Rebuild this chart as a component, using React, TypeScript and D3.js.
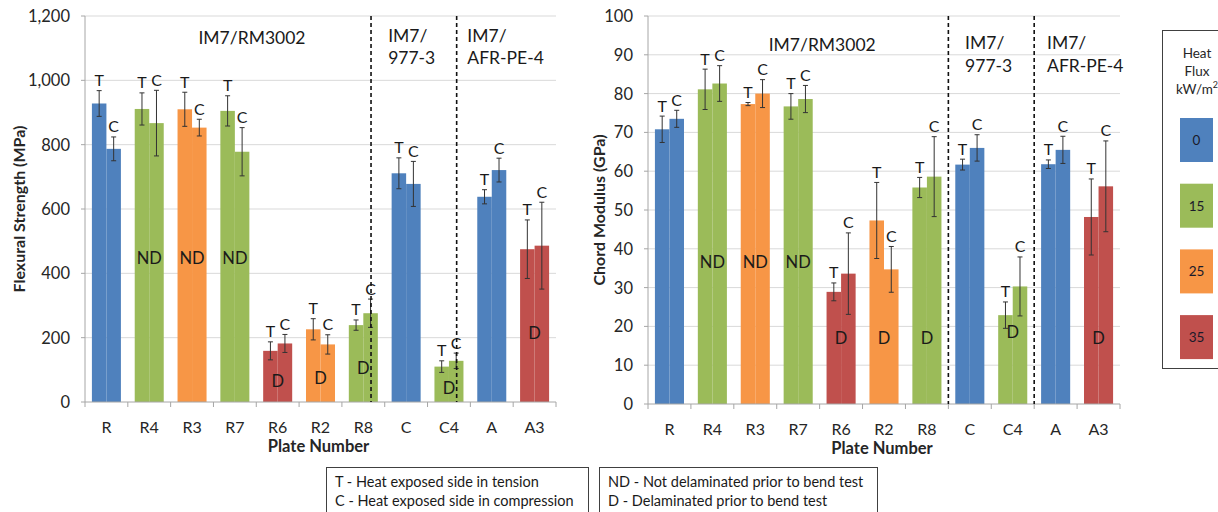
import React from 'react';
import * as d3 from 'd3';

// ---------- DATA ----------
const categories = ['R', 'R4', 'R3', 'R7', 'R6', 'R2', 'R8', 'C', 'C4', 'A', 'A3'];
const heatFlux = [0, 15, 25, 15, 35, 25, 15, 0, 15, 0, 35];
const delamination = ['', 'ND', 'ND', 'ND', 'D', 'D', 'D', '', 'D', '', 'D'];

const strengthT = [928, 911, 910, 905, 159, 226, 239, 711, 110, 638, 475];
const strengthTErr = [40, 50, 53, 47, 28, 33, 16, 48, 18, 22, 91];
const strengthC = [787, 867, 853, 778, 182, 179, 276, 678, 128, 721, 486];
const strengthCErr = [37, 102, 26, 75, 28, 30, 44, 70, 24, 37, 135];

const modulusT = [70.8, 81.1, 77.3, 76.7, 28.9, 47.3, 55.8, 61.7, 22.9, 61.8, 48.2];
const modulusTErr = [3.4, 5.2, 0.4, 3.3, 2.3, 9.8, 2.6, 1.4, 3.4, 1.1, 9.8];
const modulusC = [73.5, 82.6, 80.0, 78.6, 33.6, 34.7, 58.6, 66.0, 30.3, 65.5, 56.1];
const modulusCErr = [2.2, 4.6, 3.6, 3.5, 10.5, 5.9, 10.3, 3.4, 7.6, 3.5, 11.7];

// label anchor heights (value units) for ND / D annotations
const strengthDelamY = [0, 448, 448, 448, 65, 75, 106, 0, 44, 0, 214];
const modulusDelamY = [0, 36.6, 36.6, 36.6, 17, 17, 17, 0, 18.5, 0, 17];

const strengthTicks = [0, 200, 400, 600, 800, 1000, 1200];
const modulusTicks = [0, 10, 20, 30, 40, 50, 60, 70, 80, 90, 100];

const fluxLevels = [0, 15, 25, 35];
const fluxColors = ['#4F81BD', '#9BBB59', '#F79646', '#C0504D'];

const notesLeft = ['T - Heat exposed side in tension', 'C - Heat exposed side in compression'];
const notesRight = ['ND - Not delaminated prior to bend test', 'D - Delaminated prior to bend test'];

const FONT = 'Lato, "Open Sans", sans-serif';
const color = d3.scaleOrdinal<number, string>().domain(fluxLevels).range(fluxColors);

type PanelProps = {
  x0: number; x1: number; yTop: number; yBottom: number;
  domain: [number, number]; ticks: number[]; fmt: (v: number) => string;
  tVals: number[]; tErr: number[]; cVals: number[]; cErr: number[];
  delamY: number[];
  title: string; titleX: number;
  dashPos: number[];
  groupMain: number; groupA: number; groupB: number; groupY: number[];
};

function Panel(p: PanelProps) {
  const x = d3.scaleBand<string>().domain(categories).range([p.x0, p.x1]).paddingInner(0).paddingOuter(0);
  const bw = x.bandwidth();
  const xs = d3.scaleBand<string>().domain(['T', 'C']).range([0, bw]).paddingInner(0).paddingOuter(0.476);
  const y = d3.scaleLinear().domain(p.domain).range([p.yBottom, p.yTop]);
  const catPos = (u: number) => p.x0 + u * bw;
  const series = [
    { key: 'T', vals: p.tVals, err: p.tErr },
    { key: 'C', vals: p.cVals, err: p.cErr },
  ];
  return (
    <g>
      {p.ticks.filter((t) => t !== 0).map((t) => (
        <line key={'g' + t} x1={p.x0} x2={p.x1} y1={y(t)} y2={y(t)} stroke="#d9d9d9" strokeWidth={1} />
      ))}
      {p.ticks.map((t) => (
        <g key={'yt' + t}>
          <line x1={p.x0 - 4} x2={p.x0} y1={y(t)} y2={y(t)} stroke="#a6a6a6" />
          <text x={p.x0 - 15} y={y(t)} textAnchor="end" dominantBaseline="central" fontSize={16.5} fill="#262626" fontFamily={FONT}>
            {p.fmt(t)}
          </text>
        </g>
      ))}
      {categories.map((cat, i) =>
        series.map((s) => {
          const bx = (x(cat) as number) + (xs(s.key) as number);
          const v = s.vals[i];
          return (
            <rect key={cat + s.key} x={bx} y={y(v)} width={xs.bandwidth()} height={y(0) - y(v)} fill={color(heatFlux[i])} />
          );
        })
      )}
      {categories.map((cat, i) =>
        series.map((s) => {
          const cx = (x(cat) as number) + (xs(s.key) as number) + xs.bandwidth() / 2;
          const hi = y(s.vals[i] + s.err[i]);
          const lo = y(s.vals[i] - s.err[i]);
          return (
            <g key={'e' + cat + s.key}>
              <line x1={cx} x2={cx} y1={hi} y2={lo} stroke="#333" strokeWidth={1} />
              <line x1={cx - 2.5} x2={cx + 2.5} y1={hi} y2={hi} stroke="#333" strokeWidth={1} />
              <line x1={cx - 2.5} x2={cx + 2.5} y1={lo} y2={lo} stroke="#333" strokeWidth={1} />
              <text x={cx} y={hi - 11} textAnchor="middle" dominantBaseline="central" fontSize={16} fill="#1a1a1a" fontFamily={FONT}>
                {s.key}
              </text>
            </g>
          );
        })
      )}
      {categories.map((cat, i) =>
        delamination[i] ? (
          <text key={'d' + cat} x={(x(cat) as number) + bw / 2} y={y(p.delamY[i])} textAnchor="middle" dominantBaseline="central" fontSize={16.5} fill="#1a1a1a" fontFamily={FONT}>
            {delamination[i]}
          </text>
        ) : null
      )}
      <line x1={p.x0} x2={p.x0} y1={p.yTop} y2={p.yBottom} stroke="#a6a6a6" />
      <line x1={p.x0} x2={p.x1} y1={p.yBottom} y2={p.yBottom} stroke="#a6a6a6" />
      {d3.range(categories.length + 1).map((k) => (
        <line key={'xt' + k} x1={p.x0 + k * bw} x2={p.x0 + k * bw} y1={p.yBottom} y2={p.yBottom + 5} stroke="#a6a6a6" />
      ))}
      {categories.map((cat) => (
        <text key={'xl' + cat} x={(x(cat) as number) + bw / 2} y={p.yBottom + 24} textAnchor="middle" dominantBaseline="central" fontSize={16} fill="#262626" fontFamily={FONT}>
          {cat}
        </text>
      ))}
      <text x={(p.x0 + p.x1) / 2 - 2} y={p.yBottom + 44} textAnchor="middle" dominantBaseline="central" fontSize={16.5} fontWeight="bold" fill="#262626" fontFamily={FONT}>
        Plate Number
      </text>
      <text transform={`translate(${p.titleX},${(p.yTop + p.yBottom) / 2}) rotate(-90)`} textAnchor="middle" dominantBaseline="central" fontSize={16} fontWeight="bold" fill="#262626" fontFamily={FONT}>
        {p.title}
      </text>
      {p.dashPos.map((u) => (
        <line key={'ds' + u} x1={catPos(u)} x2={catPos(u)} y1={p.yTop} y2={p.yBottom} stroke="#111" strokeWidth={1.6} strokeDasharray="4,3" />
      ))}
      <text x={catPos(p.groupMain)} y={p.groupY[0] + 2} textAnchor="middle" dominantBaseline="central" fontSize={17.5} fill="#1a1a1a" fontFamily={FONT}>
        IM7/RM3002
      </text>
      {[
        { u: p.groupA, lines: ['IM7/', '977-3'] },
        { u: p.groupB, lines: ['IM7/', 'AFR-PE-4'] },
      ].map((g) =>
        g.lines.map((ln, k) => (
          <text key={g.u + ln} x={catPos(g.u)} y={p.groupY[k]} textAnchor="start" dominantBaseline="central" fontSize={17.5} fill="#1a1a1a" fontFamily={FONT}>
            {ln}
          </text>
        ))
      )}
    </g>
  );
}

export default function App() {
  return (
    <svg width={1218} height={512} style={{ position: 'absolute', left: 0, top: 0, background: '#fff' }}>
      <rect x={0} y={0} width={1218} height={512} fill="#fff" />
      <Panel
        x0={85} x1={556} yTop={16} yBottom={402}
        domain={[0, 1200]} ticks={strengthTicks} fmt={d3.format(',')}
        tVals={strengthT} tErr={strengthTErr} cVals={strengthC} cErr={strengthCErr}
        delamY={strengthDelamY}
        title="Flexural Strength (MPa)" titleX={18}
        dashPos={[6.68, 8.68]}
        groupMain={3.9} groupA={7.08} groupB={8.93} groupY={[35, 57]}
      />
      <Panel
        x0={648} x1={1120} yTop={16} yBottom={404}
        domain={[0, 100]} ticks={modulusTicks} fmt={d3.format('d')}
        tVals={modulusT} tErr={modulusTErr} cVals={modulusC} cErr={modulusCErr}
        delamY={modulusDelamY}
        title="Chord Modulus (GPa)" titleX={598}
        dashPos={[7, 9]}
        groupMain={4.06} groupA={7.39} groupB={9.3} groupY={[42, 65]}
      />
      <g fontFamily={FONT}>
        <rect x={1162.5} y={30.5} width={70} height={338} fill="#fff" stroke="#404040" strokeWidth={1} />
        <text x={1197} y={53} textAnchor="middle" dominantBaseline="central" fontSize={13.5} fill="#262626">Heat</text>
        <text x={1197} y={71} textAnchor="middle" dominantBaseline="central" fontSize={13.5} fill="#262626">Flux</text>
        <text x={1197} y={89} textAnchor="middle" dominantBaseline="central" fontSize={13.5} fill="#262626">
          kW/m<tspan dy={-5} fontSize={9}>2</tspan>
        </text>
        {fluxLevels.map((f, i) => {
          const sy = 118 + i * 65.7;
          return (
            <g key={'lg' + f}>
              <rect x={1180} y={sy} width={33} height={44} fill={color(f)} />
              <text x={1196.5} y={sy + 22} textAnchor="middle" dominantBaseline="central" fontSize={13.5} fill="#1a1a2a">{f}</text>
            </g>
          );
        })}
      </g>
      <g fontFamily={FONT} fontSize={14.5} fill="#1a1a1a">
        <rect x={326.5} y={467.5} width={262} height={60} fill="#fff" stroke="#404040" />
        <rect x={599.5} y={467.5} width={278} height={60} fill="#fff" stroke="#404040" />
        {notesLeft.map((t, k) => (
          <text key={t} x={335} y={481 + k * 19} dominantBaseline="central">{t}</text>
        ))}
        {notesRight.map((t, k) => (
          <text key={t} x={608} y={481 + k * 19} dominantBaseline="central">{t}</text>
        ))}
      </g>
    </svg>
  );
}
